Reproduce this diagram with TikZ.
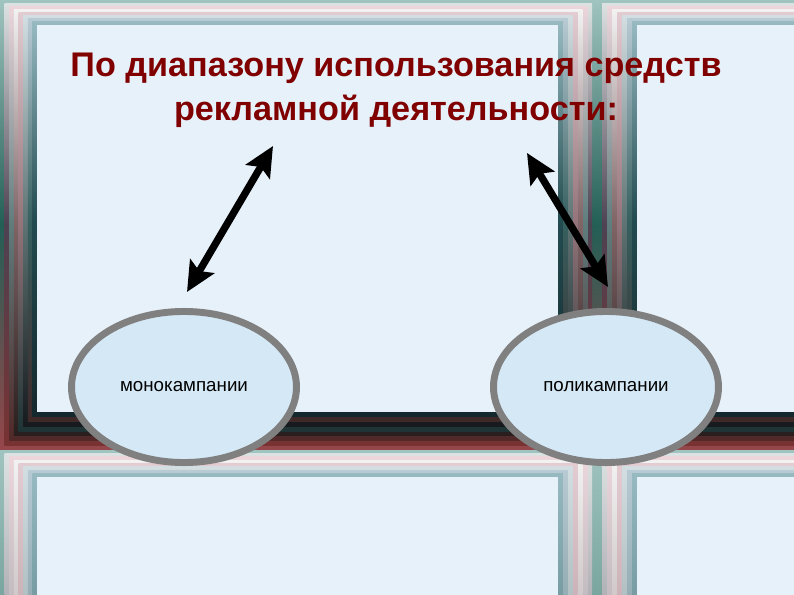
\documentclass[tikz,border=0pt]{standalone}
\usepackage{fontspec}
\setmainfont{Liberation Sans}
\usetikzlibrary{%
        arrows.meta,
        calc,
        shapes.geometric
    }
\definecolor{titlered}{RGB}{128, 0, 0}
\definecolor{panefill}{RGB}{231, 241, 250}
\definecolor{ovalfill}{RGB}{213, 232, 246}
\definecolor{ringgray}{RGB}{128, 128, 128}
% frame stripes, outer to inner: light (top), mid, dark (bottom)
\definecolor{lt1}{RGB}{160, 196, 192}
\definecolor{lt2}{RGB}{220, 226, 226}
\definecolor{lt3}{RGB}{236, 214, 220}
\definecolor{lt4}{RGB}{242, 242, 242}
\definecolor{lt5}{RGB}{226, 204, 210}
\definecolor{lt6}{RGB}{210, 222, 226}
\definecolor{lt7}{RGB}{184, 202, 212}
\definecolor{lt8}{RGB}{150, 186, 192}
\definecolor{md1}{RGB}{35, 95, 85}
\definecolor{md2}{RGB}{78, 66, 82}
\definecolor{md3}{RGB}{95, 125, 125}
\definecolor{md4}{RGB}{128, 100, 102}
\definecolor{md5}{RGB}{148, 116, 122}
\definecolor{md6}{RGB}{95, 116, 116}
\definecolor{md7}{RGB}{55, 96, 96}
\definecolor{md8}{RGB}{35, 76, 80}
\definecolor{dk1}{RGB}{150, 70, 75}
\definecolor{dk2}{RGB}{120, 50, 50}
\definecolor{dk3}{RGB}{82, 40, 40}
\definecolor{dk4}{RGB}{40, 30, 30}
\definecolor{dk5}{RGB}{30, 52, 52}
\definecolor{dk6}{RGB}{22, 26, 30}
\definecolor{dk7}{RGB}{62, 40, 40}
\definecolor{dk8}{RGB}{20, 40, 45}
\tikzset{%
    campaign/.style={%
        ellipse, draw=ringgray, line width=6.3pt, fill=ovalfill,
        minimum width=204pt, minimum height=137pt,
        font=\fontsize{17}{20}\selectfont
    },
    link/.style={%
        {Stealth[length=27pt, width=25pt, inset=5pt]}-{Stealth[length=27pt,
        width=25pt, inset=5pt]}, line width=6.6pt
    }
}
\newcommand{\framepane}[4]{%
    \foreach \stripe [count=\i from 0] in {1, ..., 8}{%
        \shade[top color=lt\stripe, bottom color=dk\stripe,
            middle color=md\stripe]
            ($(#1)!\i/8!(#3)$) rectangle ($(#2)!\i/8!(#4)$);
    };
    \fill[panefill] (#3) rectangle (#4);
}

\begin{document}
\begin{tikzpicture}[x=0.9068pt, y=-0.9068pt]

    \useasboundingbox (0, 0) rectangle (794, 595);
    \clip (0, 0) rectangle (794, 595);

    % window panes
    \framepane{0, 0}{597, 450}{37, 25}{558, 412}
    \framepane{597, 0}{1180, 450}{637, 25}{1140, 412}
    \framepane{0, 450}{597, 1400}{37, 477}{558, 1360}
    \framepane{597, 450}{1180, 1400}{637, 477}{1140, 1360}

    \node[align=center, text=titlered,
        font=\bfseries\fontsize{31}{40}\selectfont] (title) at (396, 90)
        {По диапазону использования средств\\
         рекламной деятельности:};

    \node[campaign] (mono) at (184, 387) {монокампании};
    \node[campaign] (poly) at (606, 387) {поликампании};

    \coordinate (monoup) at (273, 146);
    \coordinate (monodown) at (187, 292);
    \coordinate (polyup) at (527, 153);
    \coordinate (polydown) at (608, 287);

    \draw[link] (monodown) -- (monoup);
    \draw[link] (polyup) -- (polydown);

\end{tikzpicture}
\end{document}
